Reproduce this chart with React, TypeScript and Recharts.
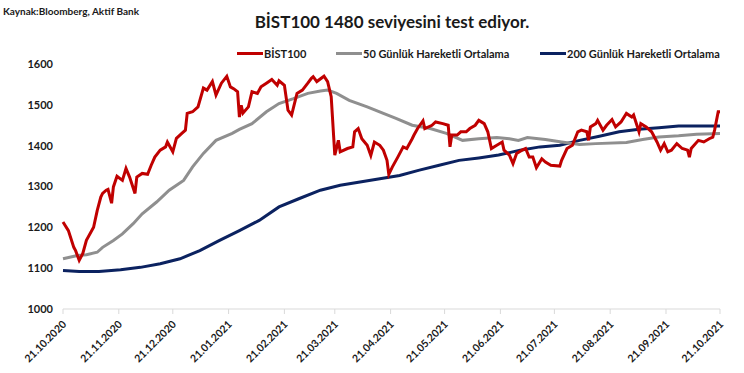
import React from "react";
import { LineChart, Line, XAxis, YAxis } from "recharts";

// day offsets from 21.10.2020
const tickDays = [0, 31, 61, 92, 123, 151, 182, 212, 243, 273, 304, 335, 365];
const tickLabels = [
  "21.10.2020", "21.11.2020", "21.12.2020", "21.01.2021", "21.02.2021", "21.03.2021",
  "21.04.2021", "21.05.2021", "21.06.2021", "21.07.2021", "21.08.2021", "21.09.2021", "21.10.2021",
];
const yTicks = [1000, 1100, 1200, 1300, 1400, 1500, 1600];

const bistDays = [
  0, 3, 6, 7, 9, 11, 13, 17, 19, 21, 22, 24, 25, 27, 28, 30, 33, 35, 37, 40, 41, 44, 47, 49, 51, 54, 57, 58, 61, 63,
  66, 68, 69, 72, 75, 78, 80, 83, 85, 88, 91, 93, 95, 97, 98, 99, 100, 103, 105, 108, 110, 113, 116, 119, 120, 123,
  125, 127, 130, 133, 136, 138, 139, 141, 145, 147, 149, 151, 153, 154, 158, 161, 162, 164, 166, 169, 171, 173, 176,
  178, 180, 181, 183, 186, 189, 191, 194, 195, 197, 200, 201, 205, 207, 211, 214, 215, 216, 219, 221, 224, 226, 229,
  231, 234, 236, 238, 241, 244, 245, 248, 250, 252, 255, 257, 259, 261, 263, 266, 268, 271, 276, 277, 280, 283, 286,
  288, 291, 292, 293, 296, 297, 300, 302, 305, 307, 310, 313, 316, 317, 320, 321, 324, 327, 330, 332, 334, 336, 338,
  341, 344, 347, 348, 349, 353, 356, 359, 361, 362, 364, 365,
];
const bistValues = [
  1213, 1192, 1151, 1143, 1119, 1136, 1168, 1200, 1241, 1274, 1283, 1291, 1293, 1259, 1299, 1325, 1315, 1344, 1323,
  1283, 1323, 1332, 1330, 1352, 1372, 1389, 1397, 1409, 1385, 1418, 1430, 1438, 1479, 1483, 1495, 1541, 1536, 1557,
  1524, 1553, 1570, 1544, 1539, 1532, 1470, 1499, 1480, 1495, 1532, 1528, 1544, 1553, 1562, 1548, 1559, 1548, 1487,
  1475, 1528, 1536, 1553, 1565, 1569, 1557, 1570, 1557, 1520, 1377, 1413, 1385, 1393, 1397, 1434, 1442, 1417, 1401,
  1376, 1409, 1401, 1389, 1364, 1330, 1348, 1372, 1397, 1393, 1417, 1426, 1442, 1461, 1442, 1450, 1458, 1454, 1450,
  1397, 1426, 1426, 1434, 1434, 1442, 1450, 1462, 1454, 1434, 1393, 1401, 1409, 1389, 1377, 1356, 1381, 1389, 1393,
  1372, 1372, 1346, 1368, 1360, 1352, 1350, 1364, 1393, 1401, 1434, 1438, 1434, 1413, 1446, 1454, 1462, 1438, 1450,
  1464, 1446, 1458, 1479, 1470, 1475, 1434, 1454, 1446, 1434, 1409, 1389, 1405, 1385, 1389, 1405, 1393, 1389, 1372,
  1393, 1413, 1409, 1417, 1421, 1438, 1483, 1483,
];

const ma50Days = [
  0, 8, 13, 19, 22, 28, 33, 39, 44, 52, 59, 67, 72, 78, 85, 94, 98, 105, 113, 120, 128, 136, 143, 147, 152, 159, 169,
  178, 185, 194, 204, 213, 222, 231, 241, 248, 253, 258, 268, 277, 287, 296, 313, 322, 331, 342, 352, 365,
];
const ma50Values = [
  1123, 1131, 1133, 1139, 1151, 1168, 1184, 1209, 1233, 1262, 1291, 1315, 1348, 1381, 1413, 1430, 1440, 1454, 1483,
  1503, 1515, 1528, 1534, 1536, 1528, 1511, 1495, 1479, 1467, 1450, 1442, 1430, 1413, 1417, 1420, 1417, 1413, 1420,
  1415, 1409, 1403, 1405, 1408, 1415, 1421, 1424, 1428, 1430,
];

const ma200Days = [
  0, 9, 20, 32, 43, 54, 65, 76, 87, 98, 109, 120, 131, 143, 154, 165, 176, 187, 198, 209, 220, 231, 242, 254, 265, 276,
  287, 298, 309, 320, 331, 342, 365,
];
const ma200Values = [
  1094, 1092, 1092, 1096, 1102, 1111, 1123, 1143, 1168, 1192, 1217, 1250, 1270, 1291, 1303, 1311, 1319, 1327, 1340,
  1352, 1364, 1370, 1377, 1389, 1397, 1401, 1413, 1423, 1434, 1440, 1444, 1448, 1448,
];

const zip = (days: number[], vals: number[]) => days.map((d, i) => ({ d, v: vals[i] }));
const bistData = zip(bistDays, bistValues);
const ma50Data = zip(ma50Days, ma50Values);
const ma200Data = zip(ma200Days, ma200Values);

const RED = "#c00000";
const GRAY = "#8f8f8f";
const BLUE = "#0b2260";
const FONT = "Lato, 'Noto Sans', sans-serif";

const XTick = (props: any) => {
  const { x, y, payload } = props;
  const idx = tickDays.indexOf(payload.value);
  return (
    <text
      x={x + 4}
      y={y + 9}
      transform={`rotate(-45, ${x + 4}, ${y + 9})`}
      textAnchor="end"
      fontFamily={FONT}
      fontWeight={700}
      fontSize={10.5}
      fill="#1a1a1a"
    >
      {idx >= 0 ? tickLabels[idx] : ""}
    </text>
  );
};

const legendItems = [
  { label: "BİST100", color: RED, x: 237 },
  { label: "50 Günlük Hareketli Ortalama", color: GRAY, x: 336 },
  { label: "200 Günlük Hareketli Ortalama", color: BLUE, x: 540 },
];

export default function App() {
  return (
    <div style={{ position: "absolute", left: 0, top: 0, width: 744, height: 373, background: "#fff", fontFamily: FONT }}>
      <div style={{ position: "absolute", left: 3, top: 5, fontSize: 10, fontWeight: 700, color: "#1a1a1a" }}>
        Kaynak:Bloomberg, Aktif Bank
      </div>
      <div
        style={{
          position: "absolute",
          left: 0,
          width: 744,
          top: 11,
          textAlign: "center",
          fontSize: 17,
          fontWeight: 700,
          color: "#1a1a1a",
          paddingLeft: 40,
          boxSizing: "border-box",
        }}
      >
        BİST100 1480 seviyesini test ediyor.
      </div>
      {legendItems.map((it) => (
        <div
          key={it.label}
          style={{
            position: "absolute",
            left: it.x,
            top: 47,
            display: "flex",
            alignItems: "center",
            fontSize: 11,
            fontWeight: 700,
            color: "#1a1a1a",
            whiteSpace: "nowrap",
          }}
        >
          <span style={{ display: "inline-block", width: 26, height: 3, background: it.color, marginRight: 1 }} />
          {it.label}
        </div>
      ))}
      <div style={{ position: "absolute", left: 0, top: 0 }}>
        <LineChart width={744} height={373} margin={{ top: 64, right: 24, left: 8, bottom: 4 }}>
          <XAxis
            type="number"
            dataKey="d"
            domain={[0, 365]}
            ticks={tickDays}
            interval={0}
            height={60}
            stroke="#d9d9d9"
            tickSize={5}
            tick={<XTick />}
            allowDuplicatedCategory={false}
          />
          <YAxis
            type="number"
            domain={[1000, 1600]}
            ticks={yTicks}
            width={55}
            axisLine={false}
            tickLine={false}
            tickSize={0}
            tickMargin={10}
            tick={{ fontFamily: FONT, fontWeight: 700, fontSize: 11, fill: "#1a1a1a" }}
          />
          <Line data={ma200Data} dataKey="v" type="linear" stroke={BLUE} strokeWidth={3} dot={false} isAnimationActive={false} />
          <Line data={ma50Data} dataKey="v" type="linear" stroke={GRAY} strokeWidth={3} dot={false} isAnimationActive={false} />
          <Line data={bistData} dataKey="v" type="linear" stroke={RED} strokeWidth={3} dot={false} isAnimationActive={false} />
        </LineChart>
      </div>
    </div>
  );
}
